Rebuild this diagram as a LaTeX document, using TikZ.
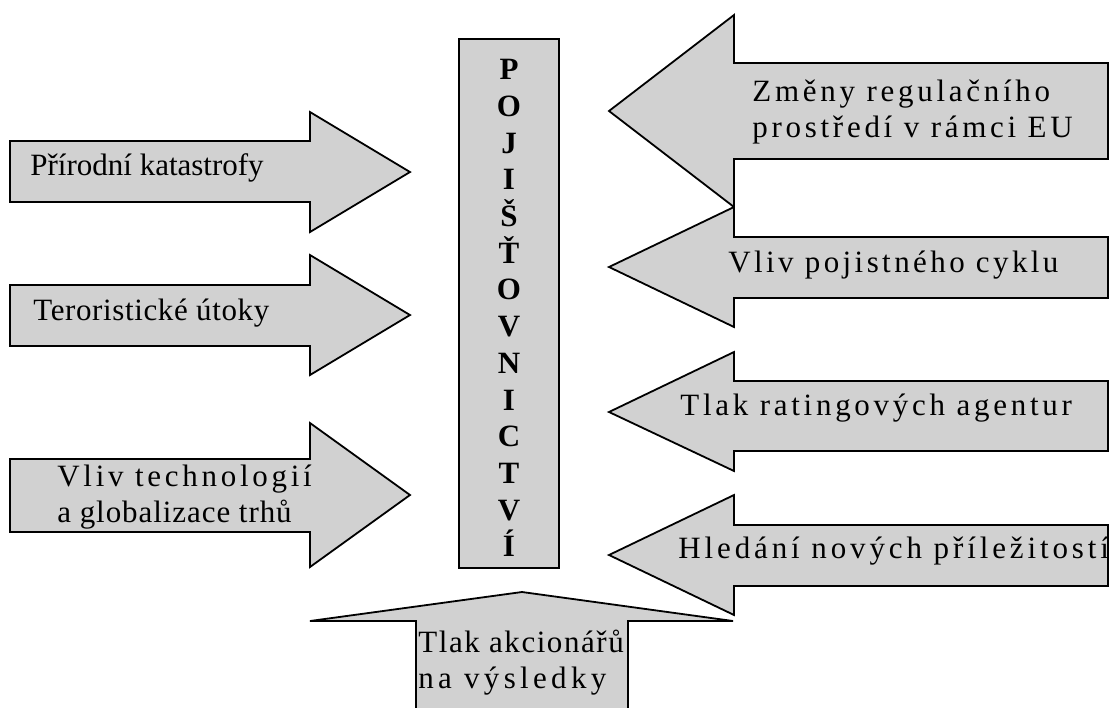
\documentclass[tikz,border=0pt]{standalone}
\usepackage{fontspec}
\setmainfont{Liberation Serif}
\usepackage{tikz}
\usetikzlibrary{positioning}

\newcommand{\prolozeni}[1]{\addfontfeatures{LetterSpace=#1}}
\tikzset{
    sipka/.style={draw, line width=0.9pt, fill=black!18, line join=miter},
    popis/.style={inner sep=0pt, anchor=base west, align=left, font=\fontsize{15.5}{18}\selectfont},
    pismena/.style={inner sep=0pt, anchor=north, align=center, font=\fontsize{15.5}{18.35}\selectfont\bfseries}
}

\begin{document}
\begin{tikzpicture}[x=0.5pt, y=-0.5pt]
    \useasboundingbox (0, 0) rectangle (1112, 707);
    \clip (0, 0) rectangle (1112, 707);

    \draw[sipka]
    (10, 141) -- (310, 141) -- (310, 112) -- (410, 172) -- (310, 232) -- (310, 202) -- (10, 202) -- cycle
    (10, 285) -- (310, 285) -- (310, 255) -- (410, 315) -- (310, 375) -- (310, 346) -- (10, 346) -- cycle
    (10, 459) -- (310, 459) -- (310, 423) -- (410, 495) -- (310, 567) -- (310, 532) -- (10, 532) -- cycle
    (609, 111) -- (734, 15) -- (734, 63) -- (1108, 63) -- (1108, 159) -- (734, 159) -- (734, 207) -- cycle
    (609, 267) -- (734, 207) -- (734, 237) -- (1108, 237) -- (1108, 298) -- (734, 298) -- (734, 327) -- cycle
    (609, 412) -- (734, 352) -- (734, 381) -- (1108, 381) -- (1108, 451) -- (734, 451) -- (734, 471) -- cycle
    (609, 555) -- (734, 495) -- (734, 525) -- (1108, 525) -- (1108, 586) -- (734, 586) -- (734, 615) -- cycle
    (310, 621) -- (522, 592) -- (733, 621) -- (628, 621) -- (628, 730) -- (416, 730) -- (416, 621) -- cycle
    (459, 39) rectangle (559, 568);

    \node[pismena] (pojistovnictvi) at (509, 59) {P\\O\\J\\I\\Š\\Ť\\O\\V\\N\\I\\C\\T\\V\\Í};

    \node[popis] (katastrofy) at (30, 175) {Přírodní katastrofy};
    \node[popis] (utoky) at (33, 320) {\prolozeni{2}Teroristické útoky};
    \node[popis] (technologie) at (57, 522) {\prolozeni{12}Vliv technologií\\\prolozeni{3}a globalizace trhů};

    \node[popis] (regulace) at (752, 137) {\prolozeni{12}Změny regulačního\\\prolozeni{12}prostředí v rámci EU};
    \node[popis] (cyklus) at (728, 272) {\prolozeni{11}Vliv pojistného cyklu};
    \node[popis] (rating) at (680, 415) {\prolozeni{12}Tlak ratingových agentur};
    \begin{scope}
        \clip (620, 527) rectangle (1107, 585);
        \node[popis] (prilezitosti) at (678, 558) {\prolozeni{12.5}Hledání nových příležitostí};
    \end{scope}

    \node[popis] (akcionari) at (418, 688) {\prolozeni{5}Tlak akcionářů\\\prolozeni{14}na výsledky};
\end{tikzpicture}
\end{document}
